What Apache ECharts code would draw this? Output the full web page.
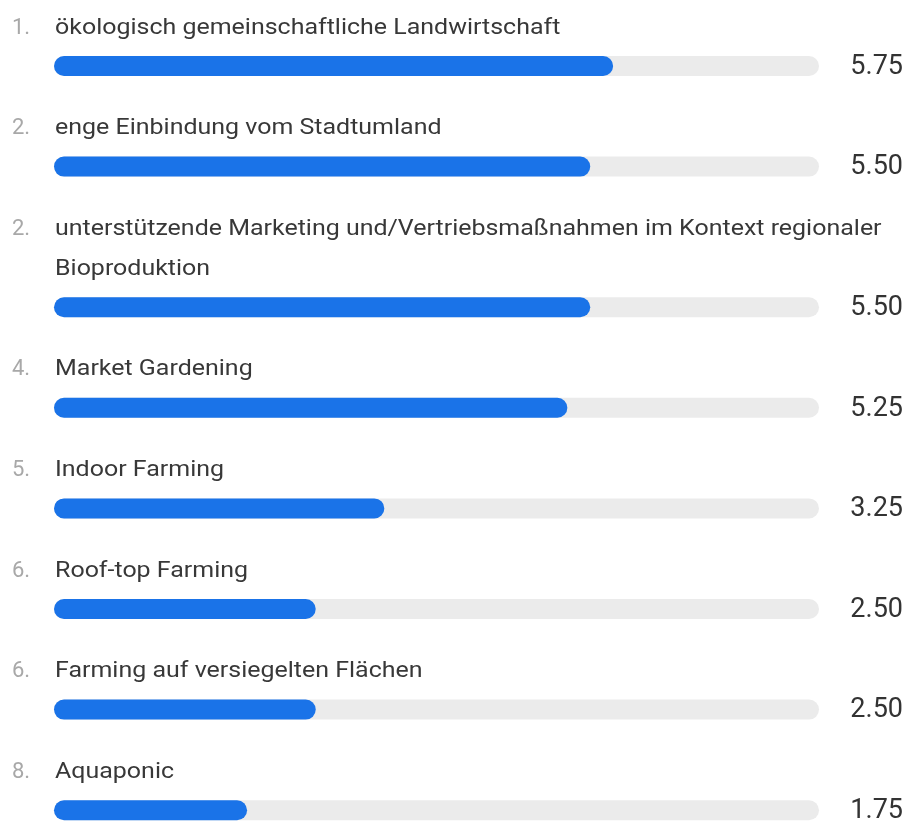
<!DOCTYPE html>
<html><head><meta charset="utf-8">
<script src="https://cdn.jsdelivr.net/npm/echarts@6/dist/echarts.min.js"></script>
<style>html,body{margin:0;padding:0;background:#fff}#c{width:909px;height:826px}</style>
</head>
<body><div id="c"></div>
<script>
// ---- data ----
const ranks = ['1.', '2.', '2.', '4.', '5.', '6.', '6.', '8.'];
const labels = [
  'ökologisch gemeinschaftliche Landwirtschaft',
  'enge Einbindung vom Stadtumland',
  'unterstützende Marketing und/Vertriebsmaßnahmen im Kontext regionaler\nBioproduktion',
  'Market Gardening',
  'Indoor Farming',
  'Roof-top Farming',
  'Farming auf versiegelten Flächen',
  'Aquaponic'
];
const values = [5.75, 5.50, 5.50, 5.25, 3.25, 2.50, 2.50, 1.75];
const scaleMax = 8;

// ---- layout ----
const axisMin = -0.36;
const firstCenter = 66;
const rowStep = 100.6;
const lineH = 40;
const barH = 20;
const gridLeft = 54, gridWidth = 765;
const FONT = 'Roboto, "Noto Sans", sans-serif';

const chart = echarts.init(document.getElementById('c'), null, {renderer: 'canvas'});

const grids = [], xAxes = [], yAxes = [], series = [], graphics = [];
let center = firstCenter;
labels.forEach((name, i) => {
  const nLines = name.split('\n').length;
  if (i > 0) center += rowStep + (nLines - 1) * lineH;
  grids.push({left: gridLeft, width: gridWidth, top: center - barH / 2, height: barH});
  xAxes.push({gridIndex: i, type: 'value', min: axisMin, max: scaleMax, show: false});
  yAxes.push({gridIndex: i, type: 'category', data: [name], show: false});
  series.push({
    type: 'custom', xAxisIndex: i, yAxisIndex: i, silent: true,
    data: [[values[i], 0]],
    renderItem(params, api) {
      const v = api.value(0);
      const s = api.coord([axisMin, 0]);
      const e = api.coord([v, 0]);
      const t = api.coord([scaleMax, 0]);
      return {type: 'group', children: [
        {type: 'rect', shape: {x: s[0], y: s[1] - barH / 2, width: t[0] - s[0], height: barH, r: barH / 2}, style: {fill: '#ebebeb'}},
        {type: 'rect', shape: {x: s[0], y: s[1] - barH / 2, width: e[0] - s[0], height: barH, r: barH / 2}, style: {fill: '#1a73e8'}},
        {type: 'text', x: t[0] + 84, y: s[1] + 1, style: {text: v.toFixed(2), fill: '#333333', font: '27px ' + FONT, align: 'right', verticalAlign: 'middle'}}
      ]};
    }
  });
  const firstLine = center - lineH - (nLines - 1) * lineH + 2;
  graphics.push({type: 'text', x: 12, y: firstLine - lineH / 2,
    style: {text: ranks[i], fill: '#a8a8a8', font: '22px ' + FONT, lineHeight: lineH}});
  graphics.push({type: 'text', x: 55, y: firstLine - lineH / 2, scaleX: 1.135,
    style: {text: name, fill: '#383838', font: '22px ' + FONT, lineHeight: lineH}});
});

chart.setOption({
  animation: false,
  backgroundColor: '#ffffff',
  grid: grids, xAxis: xAxes, yAxis: yAxes, series: series,
  graphic: graphics
});
</script>
</body></html>
